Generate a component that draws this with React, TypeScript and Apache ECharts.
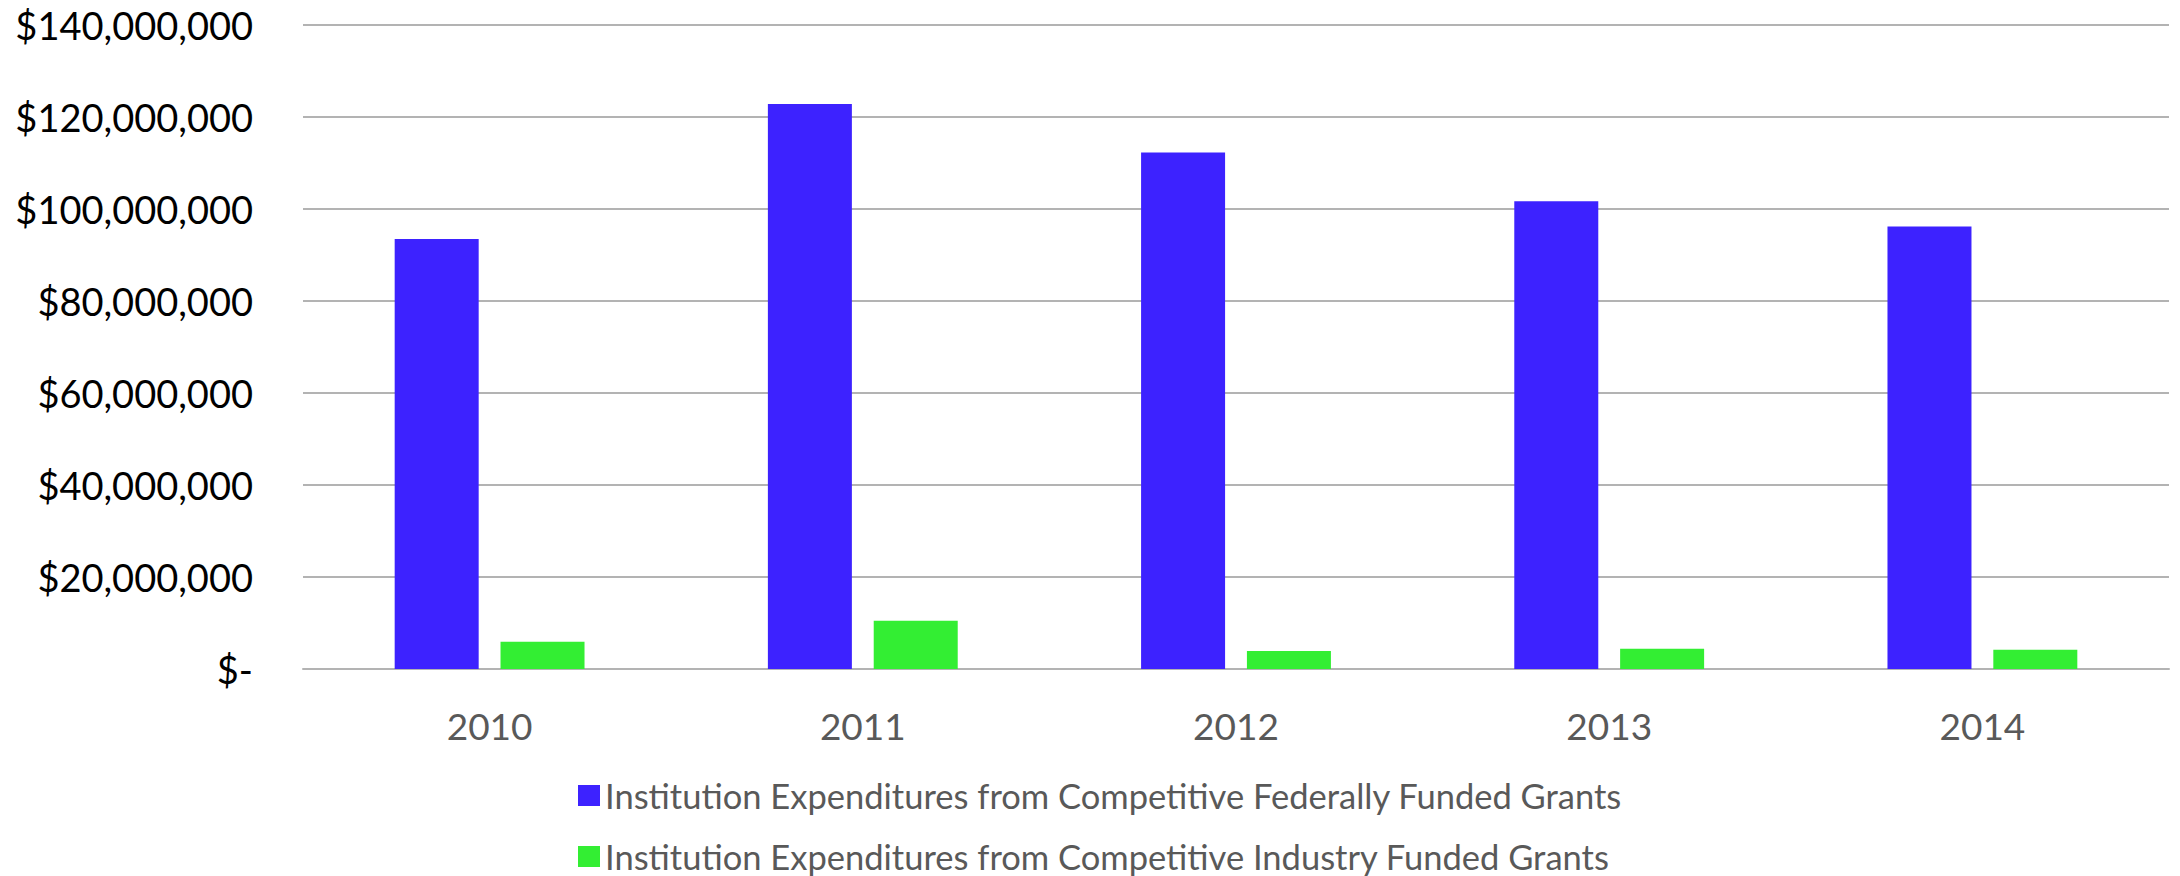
import React, { useEffect, useRef } from "react";
import * as echarts from "echarts";

const categories = ["2010", "2011", "2012", "2013", "2014"];
const federalName = "Institution Expenditures from Competitive Federally Funded Grants";
const industryName = "Institution Expenditures from Competitive Industry Funded Grants";
const federalValues = [93500000, 122800000, 112300000, 101700000, 96200000];
const industryValues = [5900000, 10500000, 3900000, 4400000, 4200000];
const yMin = 0;
const yMax = 140000000;
const yInterval = 20000000;

function fmt(v: number): string {
  if (v === 0) return "$-";
  return "$" + v.toString().replace(/\B(?=(\d{3})+(?!\d))/g, ",");
}

export default function App() {
  const ref = useRef<HTMLDivElement>(null);
  useEffect(() => {
    if (!ref.current) return;
    const chart = echarts.init(ref.current, null, { renderer: "svg" });
    const legendBase = {
      orient: "horizontal",
      left: 578,
      itemWidth: 22,
      itemHeight: 21,
      padding: 0,
      icon: "rect",
      textStyle: { fontSize: 34.5, color: "#595959", fontFamily: "Lato", lineHeight: 34 },
    };
    chart.setOption({
      animation: false,
      backgroundColor: "#ffffff",
      textStyle: { fontFamily: "Lato" },
      grid: { left: 303, right: 11, top: 25, bottom: 207, containLabel: false },
      legend: [
        { ...legendBase, top: 778, data: [federalName] },
        { ...legendBase, top: 839, data: [industryName] },
      ],
      xAxis: {
        type: "category",
        data: categories,
        axisLine: { show: true, lineStyle: { color: "#b3b3b3", width: 2 } },
        axisTick: { show: false },
        axisLabel: { fontSize: 37, color: "#595959", margin: 38, fontFamily: "Lato" },
      },
      yAxis: {
        type: "value",
        min: yMin,
        max: yMax,
        interval: yInterval,
        axisLine: { show: false },
        axisTick: { show: false },
        splitLine: { lineStyle: { color: "#b3b3b3", width: 2 } },
        axisLabel: { fontSize: 38, color: "#000000", margin: 50, formatter: fmt, fontFamily: "Lato" },
      },
      series: [
        {
          name: federalName,
          type: "bar",
          data: federalValues,
          barWidth: 84,
          barGap: "26%",
          itemStyle: { color: "#3D22FF" },
        },
        {
          name: industryName,
          type: "bar",
          data: industryValues,
          barWidth: 84,
          barGap: "26%",
          itemStyle: { color: "#33EE33" },
        },
      ],
    });
    return () => chart.dispose();
  }, []);
  return (
    <div
      ref={ref}
      style={{ position: "fixed", left: 0, top: 0, width: 2180, height: 876 }}
    />
  );
}
